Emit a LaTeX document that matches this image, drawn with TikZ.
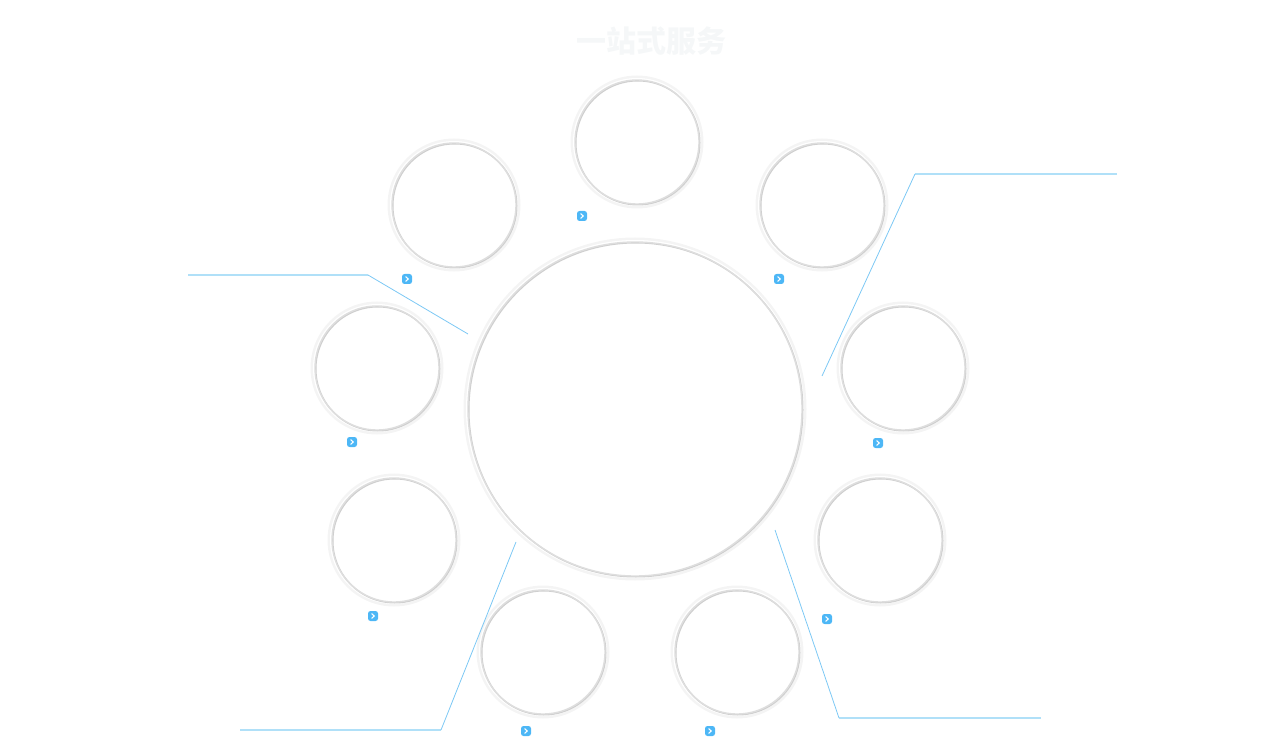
\documentclass[tikz,border=0pt]{standalone}
\usepackage{fontspec}
\newfontfamily\cjk{Noto Sans CJK SC}
\usetikzlibrary{positioning}
\definecolor{linkblue}{HTML}{7CC8F4}
\definecolor{leadblue}{HTML}{B0E0F8}
\definecolor{btnblue}{HTML}{4DB7F6}
\definecolor{ringgray}{HTML}{DEDEDE}
\definecolor{shadegray}{HTML}{CFCFCF}
\definecolor{halogray}{HTML}{F4F4F4}
\definecolor{titlegray}{HTML}{F5F7F8}

\begin{document}
\begin{tikzpicture}[x=1pt, y=-1pt,
    ring/.style={circle, inner sep=0pt, minimum size=124pt, fill=white, draw=white, line width=4pt,
        preaction={draw=halogray, line width=9pt},
        postaction={draw=shadegray, line width=1.4pt, transform canvas={shift={(0.8pt,-0.8pt)}}},
        postaction={draw=ringgray, line width=1.4pt}},
    hub/.style={ring, minimum size=334pt},
    btn/.style={fill=btnblue, rounded corners=2.5pt, minimum size=10pt, inner sep=0pt},
    link/.style={draw=linkblue, line width=0.8pt},
    lead/.style={draw=leadblue, line width=1.8pt}
]
\useasboundingbox (0,0) rectangle (1280,751);

% Title
\node[font=\cjk\bfseries\fontsize{30}{36}\selectfont, text=titlegray] (title) at (651,41) {一站式服务};

% Hub and services
\node[hub] (hub) at (635,409) {};
\node[ring] (s1) at (637,142) {};
\node[ring] (s2) at (822,205) {};
\node[ring] (s3) at (903,368) {};
\node[ring] (s4) at (880,540) {};
\node[ring] (s5) at (737,652) {};
\node[ring] (s6) at (543,652) {};
\node[ring] (s7) at (394,540) {};
\node[ring] (s8) at (377,368) {};
\node[ring] (s9) at (454,205) {};

% More buttons
\foreach \name/\x/\y in {b1/582/216, b2/779/279, b3/878/443, b4/827/619, b5/710/731,
                         b6/526/731, b7/373/616, b8/352/442, b9/407/279} {
  \node[btn] (\name) at (\x,\y) {};
  \draw[white, line width=1.1pt, line cap=round, line join=round]
    ([shift={(-1.2,-2.2)}]\name.center) -- ([shift={(1.3,0)}]\name.center) -- ([shift={(-1.2,2.2)}]\name.center);
}

% Leader lines
\coordinate (ltEnd) at (188,275);  \coordinate (ltBend) at (368,275);  \coordinate (ltTip) at (468,334);
\coordinate (rtEnd) at (1117,174); \coordinate (rtBend) at (915,174);  \coordinate (rtTip) at (822,376);
\coordinate (lbEnd) at (240,730);  \coordinate (lbBend) at (441,730);  \coordinate (lbTip) at (516,542);
\coordinate (rbEnd) at (1041,718); \coordinate (rbBend) at (839,718);  \coordinate (rbTip) at (775,530);

\draw[lead] (ltEnd) -- (ltBend);
\draw[link] (ltBend) -- (ltTip);
\draw[lead] (rtEnd) -- (rtBend);
\draw[link] (rtBend) -- (rtTip);
\draw[lead] (lbEnd) -- (lbBend);
\draw[link] (lbBend) -- (lbTip);
\draw[lead] (rbEnd) -- (rbBend);
\draw[link] (rbBend) -- (rbTip);

\end{tikzpicture}
\end{document}
